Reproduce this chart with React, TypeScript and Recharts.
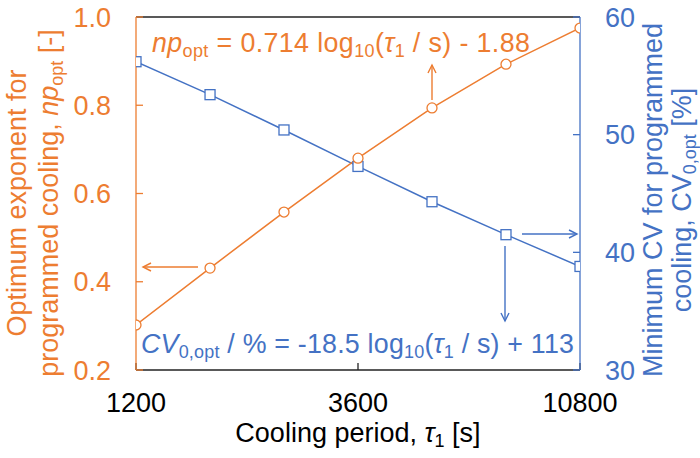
import React from "react";
import { ComposedChart, Line, XAxis, YAxis, ReferenceLine } from "recharts";

const coolingPeriod = [1200, 1731, 2496, 3600, 5192, 7488, 10800];
const npOpt = [0.302, 0.431, 0.558, 0.68, 0.794, 0.893, 0.975];
const cvOpt = [56.2, 53.4, 50.4, 47.3, 44.3, 41.5, 38.8];
const xTicks = [1200, 3600, 10800];
const leftTicks = [0.2, 0.4, 0.6, 0.8, 1.0];
const rightTicks = [30, 40, 50, 60];

const ORANGE = "#ED7D31";
const BLUE = "#4472C4";
const FONT = "'Liberation Sans', Arial, sans-serif";
const FS = 27;
const EQ = 26.8;
const SUB = 18;

const data = coolingPeriod.map((x, i) => ({ x, np: npOpt[i], cv: cvOpt[i] }));

const SquareDot = (props: any) => {
  const { cx, cy } = props;
  if (cx == null || cy == null) return null;
  return <rect x={cx - 5} y={cy - 5} width={10} height={10} fill="#fff" stroke={BLUE} strokeWidth={1.3} />;
};

const CircleDot = (props: any) => {
  const { cx, cy } = props;
  if (cx == null || cy == null) return null;
  return <circle cx={cx} cy={cy} r={5} fill="#fff" stroke={ORANGE} strokeWidth={1.3} />;
};

const Arrow = ({ x1, y1, x2, y2, color }: any) => {
  const ang = Math.atan2(y2 - y1, x2 - x1);
  const L = 8, W = 4;
  const bx = x2 - L * Math.cos(ang), by = y2 - L * Math.sin(ang);
  const px = -Math.sin(ang) * W, py = Math.cos(ang) * W;
  return (
    <g stroke={color} strokeWidth={1.4} fill="none">
      <line x1={x1} y1={y1} x2={x2} y2={y2} />
      <polyline points={`${bx + px},${by + py} ${x2},${y2} ${bx - px},${by - py}`} />
    </g>
  );
};

export default function App() {
  return (
    <div style={{ position: "absolute", left: 0, top: 0, width: 700, height: 458, background: "#fff" }}>
      <ComposedChart
        width={700}
        height={458}
        data={data}
        margin={{ top: 17, right: 0, left: 0, bottom: 0 }}
        style={{ fontFamily: FONT }}
      >
        <XAxis
          dataKey="x"
          type="number"
          scale="log"
          domain={[1200, 10800]}
          ticks={xTicks}
          allowDataOverflow
          height={88}
          stroke="#222"
          strokeWidth={1.3}
          tickSize={-7}
          tickMargin={30}
          tick={{ fill: "#000", fontSize: FS, fontFamily: FONT }}
        />
        <YAxis
          yAxisId="left"
          orientation="left"
          domain={[0.2, 1.0]}
          ticks={leftTicks}
          width={136}
          stroke={ORANGE}
          strokeWidth={1.3}
          tickSize={-7}
          tickMargin={32}
          tickFormatter={(v: number) => v.toFixed(1)}
          tick={{ fill: ORANGE, fontSize: FS, fontFamily: FONT }}
        />
        <YAxis
          yAxisId="right"
          orientation="right"
          domain={[30, 60]}
          ticks={rightTicks}
          width={120}
          stroke={BLUE}
          strokeWidth={1.3}
          tickSize={-7}
          tickMargin={32}
          tick={{ fill: BLUE, fontSize: FS, fontFamily: FONT }}
        />
        <ReferenceLine yAxisId="left" y={1.0} stroke="#222" strokeWidth={1.3} />
        <Line
          yAxisId="right"
          dataKey="cv"
          stroke={BLUE}
          strokeWidth={1.5}
          dot={<SquareDot />}
          isAnimationActive={false}
        />
        <Line
          yAxisId="left"
          dataKey="np"
          stroke={ORANGE}
          strokeWidth={1.5}
          dot={<CircleDot />}
          isAnimationActive={false}
        />
      </ComposedChart>
      <svg
        width={700}
        height={458}
        style={{ position: "absolute", left: 0, top: 0, pointerEvents: "none", fontFamily: FONT }}
      >
        <Arrow x1={198} y1={267} x2={143} y2={267} color={ORANGE} />
        <Arrow x1={432} y1={100} x2={432} y2={65} color={ORANGE} />
        <Arrow x1={522} y1={234} x2={577} y2={234} color={BLUE} />
        <Arrow x1={505} y1={246} x2={505} y2={321} color={BLUE} />

        <text x={152} y={52} fontSize={EQ} fill={ORANGE} letterSpacing={0.38}>
          <tspan fontStyle="italic">np</tspan>
          <tspan fontSize={SUB} dy={5}>opt</tspan>
          <tspan dy={-5}>{" = 0.714 log"}</tspan>
          <tspan fontSize={SUB} dy={5}>10</tspan>
          <tspan dy={-5}>(</tspan>
          <tspan fontStyle="italic">τ</tspan>
          <tspan fontSize={SUB} dy={5}>1</tspan>
          <tspan dy={-5}>{" / s) - 1.88"}</tspan>
        </text>

        <text x={141} y={353} fontSize={EQ} fill={BLUE} textLength={433} lengthAdjust="spacing">
          <tspan fontStyle="italic">CV</tspan>
          <tspan fontSize={SUB} dy={5}>0,opt</tspan>
          <tspan dy={-5}>{" / % = -18.5 log"}</tspan>
          <tspan fontSize={SUB} dy={5}>10</tspan>
          <tspan dy={-5}>(</tspan>
          <tspan fontStyle="italic">τ</tspan>
          <tspan fontSize={SUB} dy={5}>1</tspan>
          <tspan dy={-5}>{" / s) + 113"}</tspan>
        </text>

        <text x={358} y={442} fontSize={FS} fill="#000" textAnchor="middle">
          <tspan>{"Cooling period, "}</tspan>
          <tspan fontStyle="italic">τ</tspan>
          <tspan fontSize={SUB} dy={5}>1</tspan>
          <tspan dy={-5}>{" [s]"}</tspan>
        </text>

        <g transform="translate(26,203) rotate(-90)">
          <text x={0} y={0} fontSize={FS} fill={ORANGE} textAnchor="middle">
            Optimum exponent for
          </text>
        </g>
        <g transform="translate(58,203) rotate(-90)">
          <text x={0} y={0} fontSize={FS} fill={ORANGE} textAnchor="middle">
            <tspan>{"programmed cooling, "}</tspan>
            <tspan fontStyle="italic">np</tspan>
            <tspan fontSize={SUB} dy={5}>opt</tspan>
            <tspan dy={-5}>{" [-]"}</tspan>
          </text>
        </g>

        <g transform="translate(662,200) rotate(-90)">
          <text x={0} y={0} fontSize={FS} fill={BLUE} textAnchor="middle">
            Minimum CV for programmed
          </text>
        </g>
        <g transform="translate(691,200) rotate(-90)">
          <text x={0} y={0} fontSize={FS} fill={BLUE} textAnchor="middle">
            <tspan>{"cooling, CV"}</tspan>
            <tspan fontSize={SUB} dy={5}>0,opt</tspan>
            <tspan dy={-5}>{" [%]"}</tspan>
          </text>
        </g>
      </svg>
    </div>
  );
}
